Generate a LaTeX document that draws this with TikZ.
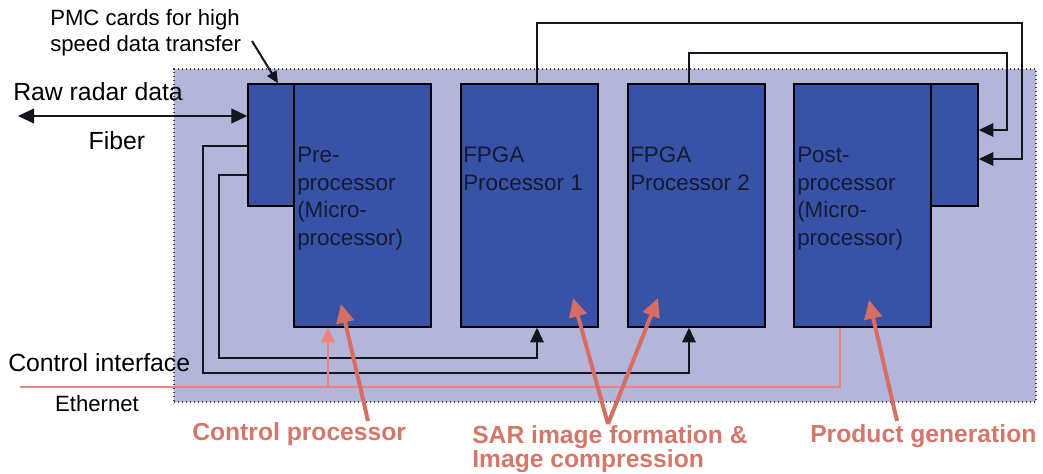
\documentclass[tikz,border=0pt]{standalone}
\usepackage{fontspec}
\setmainfont{Liberation Sans}
\usetikzlibrary{arrows.meta,fit}

\definecolor{panel}{RGB}{180,181,219}
\definecolor{unit}{RGB}{56,82,165}
\definecolor{unittext}{RGB}{22,26,52}
\definecolor{note}{RGB}{212,118,106}
\definecolor{callout}{RGB}{214,110,100}
\definecolor{ether}{RGB}{240,130,124}
\definecolor{wirec}{RGB}{20,22,30}

\begin{document}
\begin{tikzpicture}[x=0.75pt,y=-0.75pt,
  unitbox/.style={draw=black,line width=1pt,fill=unit,inner sep=0pt},
  unitlabel/.style={anchor=north west,inner sep=0pt,align=left,text=unittext,
    font=\fontsize{16.8}{20.6}\selectfont},
  plain/.style={inner sep=0pt,text=black,font=\fontsize{18.6}{22}\selectfont},
  small/.style={inner sep=0pt,text=black,font=\fontsize{16.6}{19.5}\selectfont},
  notelabel/.style={inner sep=0pt,text=note,align=left,
    font=\fontsize{18.5}{18}\selectfont\bfseries},
  wire/.style={draw=wirec,line width=1.5pt},
  tip/.style={-{Triangle[length=11pt,width=10pt]}},
  ethline/.style={draw=ether,line width=2.2pt},
  pointer/.style={draw=callout,line width=3pt,-{Triangle[length=14pt,width=13pt]}}
]
\useasboundingbox (0,0) rectangle (1043,474);

% enclosing board
\node[fill=panel,draw=black!75,dotted,line width=1pt,inner sep=0pt,
      fit={(174,69) (1036,402)}] (board) {};

% processing units and their PMC cards
\node[unitbox,fit={(294,84) (431,327)}] (pre) {};
\node[unitbox,fit={(248,84) (294,206)}] (pmcin) {};
\node[unitbox,fit={(461,84) (598,327)}] (fpgaA) {};
\node[unitbox,fit={(628,84) (765,327)}] (fpgaB) {};
\node[unitbox,fit={(794,84) (931,327)}] (post) {};
\node[unitbox,fit={(931,84) (978,206)}] (pmcout) {};

\node[unitlabel] (pretext) at (297,147) {Pre-\\processor\\(Micro-\\processor)};
\node[unitlabel] (fpgaAtext) at (463,147) {FPGA\\Processor 1};
\node[unitlabel] (fpgaBtext) at (630,147) {FPGA\\Processor 2};
\node[unitlabel] (posttext) at (797,147) {Post-\\processor\\(Micro-\\processor)};

% fiber link
\coordinate (rawend) at (18,116);
\draw[wire,{Triangle[length=12pt,width=11pt]}-{Triangle[length=12pt,width=11pt]}]
  (rawend) -- (pmcin.west |- 0,116);
\node[plain,anchor=west] (raw) at (13,92) {Raw radar data};
\node[plain] (fiber) at (117,141) {Fiber};

% PMC note
\node[small,anchor=west,align=left] (pmcnote) at (50,33) {PMC cards for high\\speed data transfer};
\coordinate (pmcnotetail) at (252,41);
\draw[wire,-{Triangle[length=9pt,width=8pt]}] (pmcnotetail) -- (pmcin.north -| 278,0);

% input card to FPGA processors
\draw[wire,tip] (pmcin.west |- 0,146) -| (203,373) -| (fpgaB.south -| 689,0);
\draw[wire,tip] (pmcin.west |- 0,175) -| (219,358) -| (fpgaA.south -| 537,0);

% FPGA processors to output card
\draw[wire,tip] (fpgaA.north -| 537,0) |- (1022,23) |- (pmcout.east |- 0,159);
\draw[wire,tip] (fpgaB.north -| 689,0) |- (1007,53) |- (pmcout.east |- 0,130);

% control interface (Ethernet)
\coordinate (ethstart) at (20,387);
\coordinate (ethtap) at (328,387);
\draw[ethline] (ethstart) -| (post.south -| 840,0);
\draw[ethline,-{Triangle[length=11pt,width=10pt]}] (ethtap) -- (pre.south -| 328,0);
\node[plain,anchor=west] (ctrl) at (8,363) {Control interface};
\node[small] (eth) at (97,404) {Ethernet};

% function callouts
\node[notelabel,anchor=west] (cp) at (192,434) {Control processor};
\node[notelabel,anchor=west] (sar) at (472,449) {SAR image formation \&\\Image compression};
\node[notelabel,anchor=west] (pg) at (810,436) {Product generation};

\coordinate (cptail) at (368,421);
\coordinate (sartail) at (608,424);
\coordinate (pgtail) at (897,421);
\draw[pointer] (cptail) -- (341,304);
\draw[pointer] (sartail) -- (573,298);
\draw[pointer] (sartail) -- (658,298);
\draw[pointer] (pgtail) -- (869,300);
\end{tikzpicture}
\end{document}
